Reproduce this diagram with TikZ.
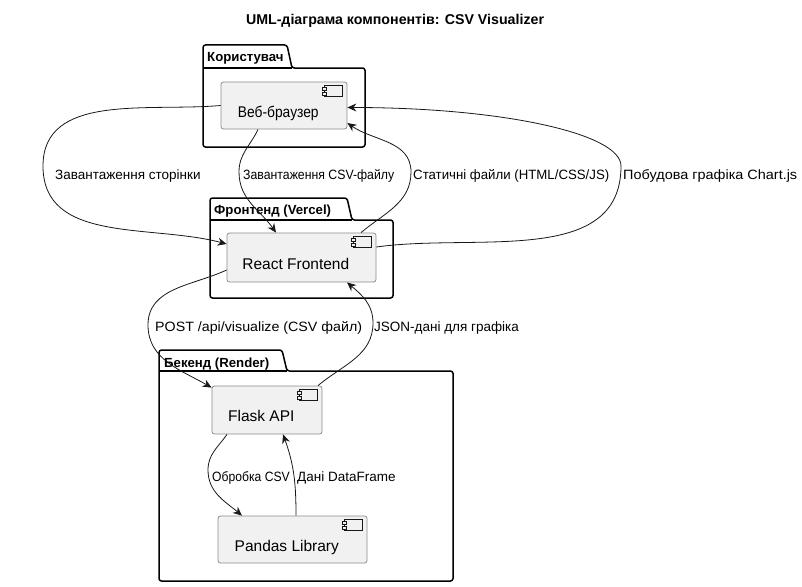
\documentclass[tikz,border=0pt]{standalone}
\usepackage{fontspec}
\usepackage{graphicx}
\setmainfont{Liberation Sans}
\usetikzlibrary{arrows.meta}

\definecolor{compfill}{HTML}{F1F1F1}
\definecolor{compline}{HTML}{8C8C8C}
\definecolor{linecol}{HTML}{181818}

\begin{document}
\begin{tikzpicture}[x=1pt, y=-1pt,
    comp/.style={draw=compline, fill=compfill, rounded corners=2.5pt, line width=0.8pt, inner sep=0pt},
    ctext/.style={text height=11.1pt, text depth=0pt, xshift=-5.7pt, yshift=-6.25pt, font=\fontsize{15.5}{18}\selectfont},
    pkg/.style={line width=1.5pt, rounded corners=2.5pt},
    ptext/.style={anchor=base west, inner sep=0pt, font=\bfseries\fontsize{13.2}{16}\selectfont},
    flow/.style={draw=linecol, line width=0.8pt, -{Stealth[length=9pt,width=8pt,inset=3pt]}},
    lbl/.style={anchor=base west, inner sep=0pt, font=\fontsize{13.5}{16}\selectfont}]
    \useasboundingbox (0,0) rectangle (802,586);

    \node[anchor=base, font=\bfseries\fontsize{14.2}{17}\selectfont] (title) at (395,25) {UML-діаграма компонентів: CSV Visualizer};

    % packages
    \draw[pkg] (203,68) -- (203,45) -- (287,45) -- (292,68) -- (365,68) -- (365,147) -- (203,147) -- cycle;
    \draw[line width=1.5pt] (203,68) -- (292,68);
    \node[ptext] (puser) at (207,62) {Користувач};

    \draw[pkg] (210,220) -- (210,198) -- (347,198) -- (352,220) -- (393,220) -- (393,298) -- (210,298) -- cycle;
    \draw[line width=1.5pt] (210,220) -- (352,220);
    \node[ptext] (pfront) at (214,214) {Фронтенд (Vercel)};

    \draw[pkg] (159,371) -- (159,350) -- (282,350) -- (287,371) -- (453,371) -- (453,581) -- (159,581) -- cycle;
    \draw[line width=1.5pt] (159,371) -- (287,371);
    \node[ptext] (pback) at (164,367) {Бекенд (Render)};

    % components
    \node[comp, minimum width=126, minimum height=47, label={[ctext]center:\scalebox{0.89}[1]{Веб-браузер}}] (web) at (284,105.5) {};
    \node[comp, minimum width=149, minimum height=49, label={[ctext]center:React Frontend}] (front) at (301.5,257.5) {};
    \node[comp, minimum width=110, minimum height=48, label={[ctext]center:Flask API}] (flask) at (267,410) {};
    \node[comp, minimum width=149, minimum height=47, label={[ctext]center:Pandas Library}] (pandas) at (292.5,539.5) {};

    \foreach \n in {web,front,flask,pandas} {
        \draw[linecol, line width=0.6pt, fill=compfill] ([xshift=-23pt,yshift=-4pt]\n.north east) rectangle ++(18,11);
        \draw[linecol, line width=0.6pt, fill=compfill] ([xshift=-25pt,yshift=-6pt]\n.north east) rectangle ++(4,2.7);
        \draw[linecol, line width=0.6pt, fill=compfill] ([xshift=-25pt,yshift=-10.7pt]\n.north east) rectangle ++(4,2.7);
    }

    % connectors
    \draw[flow] (web.west) to[out=185,in=90] (43,166) to[out=-90,in=165] ([yshift=13.5pt]front.west);
    \node[lbl] (l1) at (55,179) {Завантаження сторінки};

    \draw[flow] ([xshift=-26pt]web.south) to[out=-115,in=90] (239,172) to[out=-90,in=125] ([xshift=-25.5pt]front.north);
    \node[lbl] (l2) at (243,179) {\scalebox{0.91}[1]{Завантаження CSV-файлу}};

    \draw[flow] ([xshift=59.5pt]front.north) to[out=40,in=-90] (411,172) to[out=90,in=-35] ([yshift=-17.5pt]web.east);
    \node[lbl] (l3) at (413,179) {\scalebox{0.98}[1]{Статичні файли (HTML/CSS/JS)}};

    \draw[flow] ([yshift=10.5pt]front.east) to[out=8,in=-90] (621,166) to[out=90,in=0,out looseness=0.3,in looseness=1.4] ([yshift=-2pt]web.east);
    \node[lbl] (l4) at (623,179) {\scalebox{1.07}[1]{Побудова графіка Chart.js}};

    \draw[flow] ([yshift=-12.5pt]front.west) to[out=205,in=90] (148,325) to[out=-90,in=150] ([yshift=-2pt]flask.north west);
    \node[lbl] (l5) at (155,331) {\scalebox{1.055}[1]{POST /api/visualize (CSV файл)}};

    \draw[flow] ([xshift=51pt]flask.north) to[out=40,in=-90] (373,323) to[out=90,in=-40] ([xshift=45.5pt]front.south);
    \node[lbl] (l6) at (374,331) {JSON-дані для графіка};

    \draw[flow] ([xshift=-40pt]flask.south) to[out=-125,in=90] (208,470) to[out=-90,in=140] ([xshift=-50.5pt]pandas.north);
    \node[lbl] (l7) at (212,481.5) {\scalebox{0.9}[1]{Обробка CSV}};

    \draw[flow] ([xshift=3.5pt]pandas.north) to[out=90,in=-70] ([xshift=16pt]flask.south);
    \node[lbl] (l8) at (297,481.5) {Дані DataFrame};
\end{tikzpicture}
\end{document}
